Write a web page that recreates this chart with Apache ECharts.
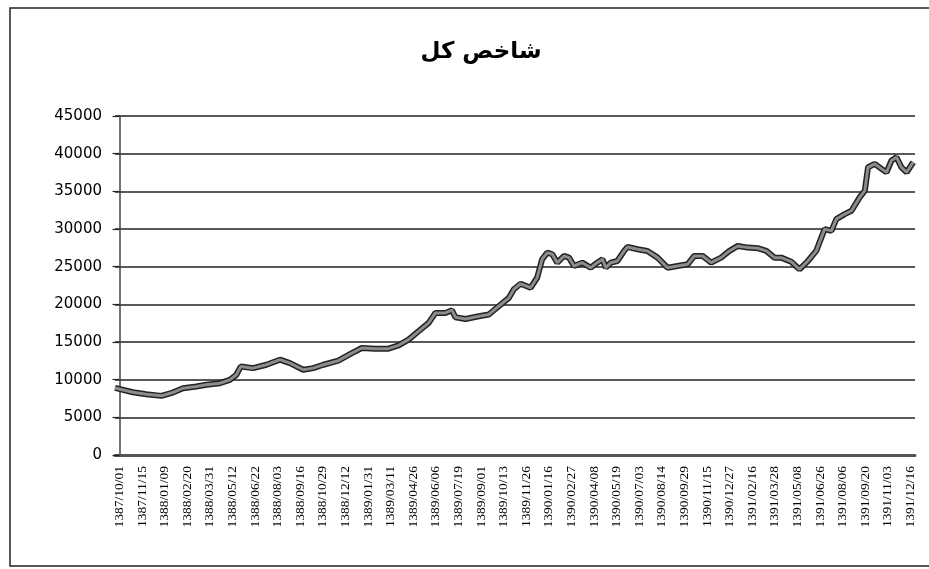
<!DOCTYPE html>
<html>
<head>
<meta charset="utf-8">
<script src="https://cdn.jsdelivr.net/npm/echarts@6/dist/echarts.min.js"></script>
<style>
  html, body { margin: 0; padding: 0; background: #fff; }
  #main { width: 929px; height: 569px; }
</style>
</head>
<body>
<div id="main"></div>
<script>
// tick labels on the x axis (one every ~30 trading days)
var dateLabels = [
  '1387/10/01', '1387/11/15', '1388/01/09', '1388/02/20', '1388/03/31', '1388/05/12',
  '1388/06/22', '1388/08/03', '1388/09/16', '1388/10/29', '1388/12/12', '1389/01/31',
  '1389/03/11', '1389/04/26', '1389/06/06', '1389/07/19', '1389/09/01', '1389/10/13',
  '1389/11/26', '1390/01/16', '1390/02/27', '1390/04/08', '1390/05/19', '1390/07/03',
  '1390/08/14', '1390/09/29', '1390/11/15', '1390/12/27', '1391/02/16', '1391/03/28',
  '1391/05/08', '1391/06/26', '1391/08/06', '1391/09/20', '1391/11/03', '1391/12/16'
];

// position of each reading, in label steps (0 = first label)
var pos = [
  -0.20, 0.59, 1.18, 1.85, 2.36, 2.81, 3.40, 3.84, 4.44, 4.88,
  5.17, 5.37, 5.91, 6.50, 7.10, 7.54, 8.13, 8.57, 9.02, 9.68,
  10.28, 10.72, 11.31, 11.90, 12.35, 12.79, 13.23, 13.68, 13.98, 14.42,
  14.71, 14.86, 15.31, 15.90, 16.34, 16.78, 17.23, 17.45, 17.75, 18.19,
  18.48, 18.70, 18.93, 19.15, 19.37, 19.67, 19.89, 20.11, 20.48, 20.85,
  21.14, 21.37, 21.52, 21.74, 22.03, 22.33, 22.48, 22.92, 23.36, 23.81,
  24.25, 24.69, 25.14, 25.43, 25.80, 26.18, 26.62, 26.99, 27.36, 27.80,
  28.24, 28.62, 28.98, 29.28, 29.72, 30.09, 30.46, 30.83, 31.20, 31.50,
  31.72, 32.09, 32.39, 32.75, 32.98, 33.12, 33.42, 33.72, 33.94, 34.16,
  34.38, 34.60, 34.83, 35.12
];

// index value
var indexValues = [
  8900, 8330, 8065, 7850, 8290, 8865, 9090, 9320, 9530, 9980,
  10650, 11760, 11530, 11980, 12650, 12200, 11320, 11530, 11980, 12520,
  13530, 14200, 14120, 14120, 14560, 15320, 16420, 17530, 18860, 18860,
  19220, 18290, 18060, 18420, 18650, 19750, 20860, 22000, 22730, 22200,
  23530, 25980, 26860, 26650, 25530, 26420, 26200, 25090, 25530, 24860,
  25530, 25980, 24860, 25530, 25750, 27090, 27620, 27310, 27090, 26200,
  24860, 25090, 25310, 26420, 26420, 25530, 26200, 27090, 27750, 27530,
  27450, 27090, 26200, 26200, 25660, 24650, 25750, 27090, 29980, 29750,
  31310, 31980, 32420, 34190, 35090, 38190, 38640, 37980, 37530, 39090,
  39530, 38190, 37530, 38860
];

var tickPos = [];
for (var i = 0; i < dateLabels.length; i++) tickPos.push(i);

var seriesData = [];
for (var j = 0; j < pos.length; j++) seriesData.push([pos[j], indexValues[j]]);

var chart = echarts.init(document.getElementById('main'));
chart.setOption({
  backgroundColor: '#fff',
  animation: false,
  title: {
    text: 'شاخص کل',
    left: 476,
    top: 36,
    textAlign: 'center',
    textStyle: { fontFamily: 'DejaVu Sans', fontSize: 23, fontWeight: 'bold', color: '#000' }
  },
  graphic: [{
    type: 'rect',
    shape: { x: 10, y: 8, width: 960, height: 558 },
    style: { fill: 'none', stroke: '#222', lineWidth: 1.5 },
    silent: true
  }],
  grid: { left: 115, right: 14, top: 116, bottom: 114 },
  xAxis: {
    type: 'value',
    min: -0.2,
    max: 35.2,
    splitLine: { show: false },
    axisLine: { lineStyle: { color: '#555', width: 3 } },
    axisTick: { show: false },
    axisLabel: {
      customValues: tickPos,
      rotate: 90,
      margin: 11,
      color: '#000',
      fontFamily: 'Liberation Sans Narrow',
      fontSize: 13.5,
      formatter: function (v) { return dateLabels[Math.round(v)] || ''; }
    }
  },
  yAxis: {
    type: 'value',
    min: 0,
    max: 45000,
    interval: 5000,
    axisLine: { show: true, lineStyle: { color: '#444', width: 1.5 } },
    axisTick: { show: true, length: 7, lineStyle: { color: '#222', width: 1.2 } },
    splitLine: { lineStyle: { color: '#222', width: 1.5 } },
    axisLabel: {
      color: '#000',
      fontFamily: 'DejaVu Sans',
      fontSize: 15,
      margin: 13,
      formatter: function (v) { return String(v); }
    }
  },
  series: [{
    type: 'line',
    data: seriesData,
    showSymbol: false,
    smooth: false,
    lineStyle: { color: '#222', width: 6 },
    z: 2
  }, {
    type: 'line',
    data: seriesData,
    showSymbol: false,
    smooth: false,
    lineStyle: { color: '#8c8c8c', width: 3 },
    z: 3
  }]
});
</script>
</body>
</html>
